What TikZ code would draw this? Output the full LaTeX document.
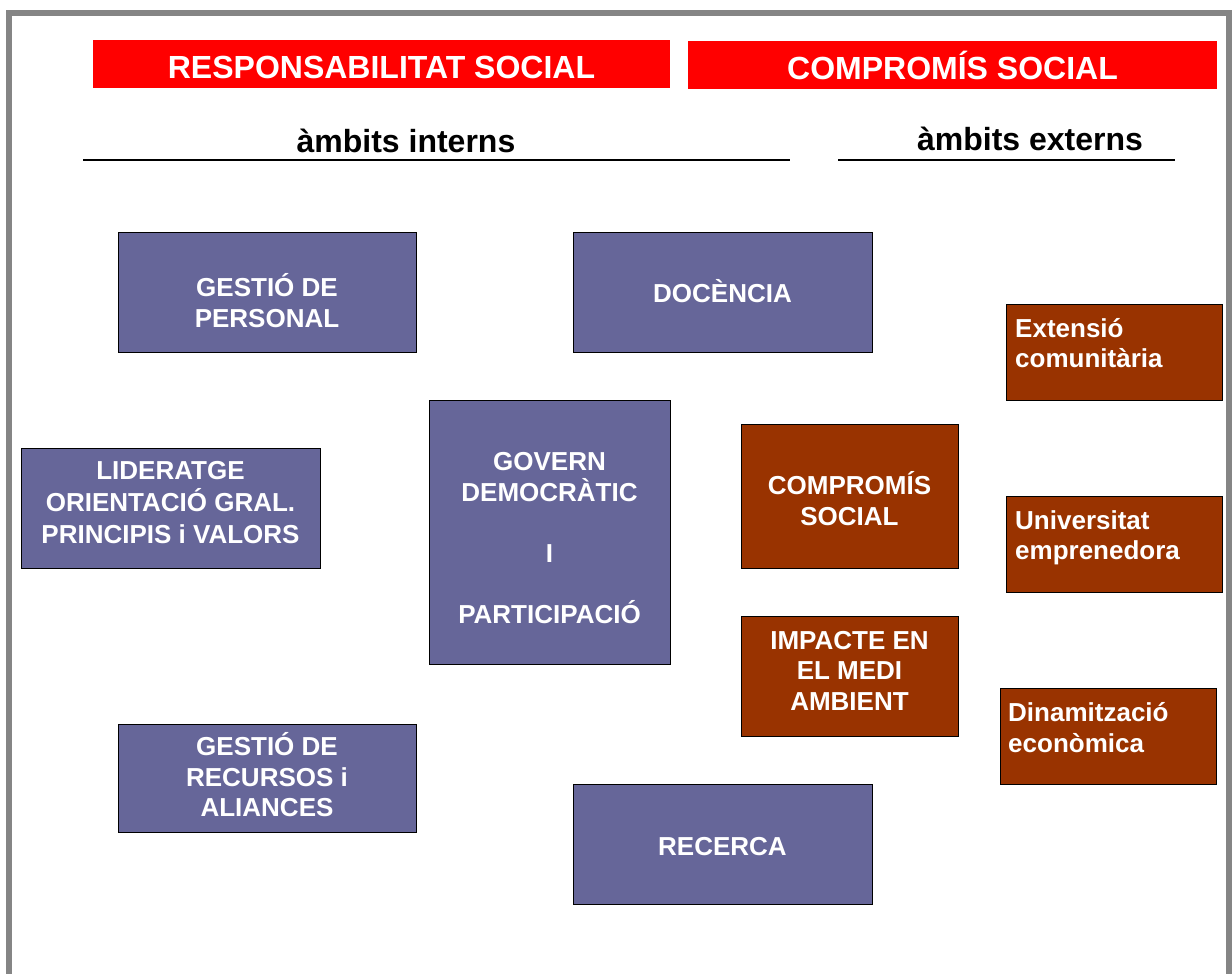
\documentclass[tikz,border=0pt]{standalone}
\usepackage{fontspec}
\setmainfont{Liberation Sans}
\definecolor{purp}{HTML}{666699}
\definecolor{brn}{HTML}{993300}
\definecolor{hred}{HTML}{FF0000}
\definecolor{frame}{HTML}{858585}
\begin{document}
\begin{tikzpicture}[x=1pt,y=-1pt,
  box/.style={draw=black, line width=1pt, inner sep=0pt, text=white,
    font=\bfseries\fontsize{26}{30.5}\selectfont, align=center, text depth=0pt},
  pbox/.style={box, fill=purp},
  bbox/.style={box, fill=brn},
  btext/.style={inner sep=0pt, text=white, font=\bfseries\fontsize{26}{30.5}\selectfont,
    align=left, anchor=base west},
  hdr/.style={fill=hred, inner sep=0pt, text=white,
    font=\bfseries\fontsize{32}{38}\selectfont, text height=30pt, text depth=0pt},
  sub/.style={inner sep=0pt, text=black, font=\bfseries\fontsize{32}{38}\selectfont, anchor=base},
  rule/.style={line width=1.8pt, black},
  frm/.style={line width=6pt, frame}]
\useasboundingbox (0,0) rectangle (1232,974);
\draw[frm] (9,980) -- (9,13) -- (1229,13) -- (1229,980);

% headers
\node[hdr, minimum width=577, minimum height=48] (h1) at (381.5,64) {RESPONSABILITAT SOCIAL};
\node[hdr, minimum width=529, minimum height=48] (h2) at (952.5,65) {COMPROMÍS SOCIAL};

\node[sub] (s1) at (406,152) {àmbits interns};
\node[sub] (s2) at (1030,150) {àmbits externs};
\coordinate (l1a) at (83,160); \coordinate (l1b) at (790,160);
\coordinate (l2a) at (838,160); \coordinate (l2b) at (1175,160);
\draw[rule] (l1a) -- (l1b);
\draw[rule] (l2a) -- (l2b);

% purple boxes (text height = 2 x (last baseline - centre))
\node[pbox, minimum width=298, minimum height=120, text height=70pt] (gp) at (267,292) {GESTIÓ DE\\PERSONAL};
\node[pbox, minimum width=299, minimum height=120, text height=21.4pt] (doc) at (722.5,292) {DOCÈNCIA};
\node[pbox, minimum width=299, minimum height=120, text height=70pt,
  font=\bfseries\fontsize{26}{32}\selectfont] (lid) at (170.5,508) {LIDERATGE\\ORIENTACIÓ GRAL.\\PRINCIPIS i VALORS};
\node[pbox, minimum width=241, minimum height=264, text height=182.6pt] (gov) at (549.5,532) {GOVERN\\DEMOCRÀTIC\\[30.5pt]I\\[30.5pt]PARTICIPACIÓ};
\node[pbox, minimum width=298, minimum height=108, text height=77.4pt] (gr) at (267,778) {GESTIÓ DE\\RECURSOS i\\ALIANCES};
\node[pbox, minimum width=299, minimum height=120, text height=22pt] (rec) at (722.5,844) {RECERCA};

% brown boxes
\node[bbox, minimum width=217, minimum height=144, text height=58pt] (cs) at (849.5,496) {COMPROMÍS\\SOCIAL};
\node[bbox, minimum width=217, minimum height=120, text height=68pt] (imp) at (849.5,676) {IMPACTE EN\\EL MEDI\\AMBIENT};
\node[bbox, minimum width=216, minimum height=96] (ext) at (1114,352) {};
\node[bbox, minimum width=216, minimum height=96] (uni) at (1114,544) {};
\node[bbox, minimum width=216, minimum height=96] (din) at (1108,736) {};
\node[btext] (extt) at (1015,367.5) {Extensió\\comunitària};
\node[btext] (unit) at (1015,559.5) {Universitat\\emprenedora};
\node[btext] (dint) at (1008,752) {Dinamització\\econòmica};
\end{tikzpicture}
\end{document}
